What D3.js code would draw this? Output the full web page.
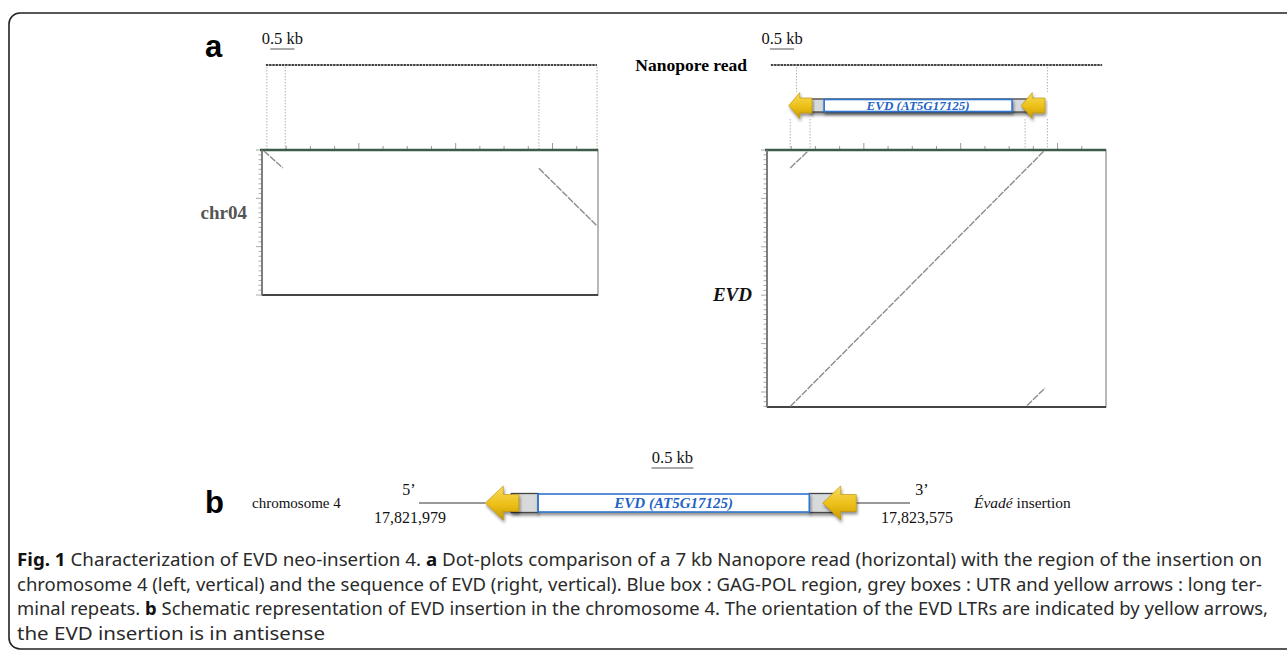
<!DOCTYPE html>
<html>
<head>
<meta charset="utf-8">
<script src="https://cdn.jsdelivr.net/npm/d3@7"></script>
<style>
  body { margin: 0; background: #fff; }
  svg { display: block; }
</style>
</head>
<body>
<svg id="fig" width="1287" height="651"></svg>
<script>
// ---- data (kb) ----
// panel a : dot plots, x = position on the Nanopore read, y = chr04 / EVD
const readSpan = [0.08, 6.92];
const plotWidthKb = 6.94;
const chrHeightKb = 3.0;
const evdHeightKb = 5.31;
const chrHits = [
  { x1: 0.04, y1: 0.02, x2: 0.43, y2: 0.37 },
  { x1: 5.72, y1: 0.38, x2: 6.92, y2: 1.57 }
];
const evdHits = [
  { x1: 0.48, y1: 5.30, x2: 5.72, y2: 0.02 },
  { x1: 0.48, y1: 0.37, x2: 0.85, y2: 0.02 },
  { x1: 5.37, y1: 5.28, x2: 5.74, y2: 4.92 }
];
const chrGuides = [0.10, 0.48, 5.72, 6.92];
const evdGuidesUpper = [0.61, 5.79];
const evdGuidesLower = [0.48, 0.89, 5.33, 5.79];
// EVD element drawn over the right dot plot
const aLtr5 = [0.45, 0.93];
const aUtr = [0.89, 5.39];
const aGagPol = [1.18, 5.06];
const aLtr3 = [5.25, 5.74];
// panel b : insertion schematic
const bFlank5 = [0, 0.79];
const bLtr5 = [0.79, 1.19];
const bUtr5 = [1.10, 1.42];
const bGagPol = [1.42, 4.65];
const bUtr3 = [4.65, 4.93];
const bLtr3 = [4.81, 5.21];
const bFlank3 = [5.21, 5.85];
const bScaleBar = [2.77, 3.27];
const coords = ['17,821,979', '17,823,575'];
const captionLines = [
  [['Fig. 1', 1], [' Characterization of EVD neo-insertion 4. ', 0], ['a', 1], [' Dot-plots comparison of a 7 kb Nanopore read (horizontal) with the region of the insertion on', 0]],
  [['chromosome 4 (left, vertical) and the sequence of EVD (right, vertical). Blue box : GAG-POL region, grey boxes : UTR and yellow arrows : long ter-', 0]],
  [['minal repeats. ', 0], ['b', 1], [' Schematic representation of EVD insertion in the chromosome 4. The orientation of the EVD LTRs are indicated by yellow arrows,', 0]],
  [['the EVD insertion is in antisense', 0]]
];

const svg = d3.select('#fig');
const serif = '"Liberation Serif", "DejaVu Serif", serif';

const defs = svg.append('defs');
const grad = defs.append('linearGradient').attr('id', 'gold').attr('x1', 0).attr('y1', 0).attr('x2', 0).attr('y2', 1);
grad.append('stop').attr('offset', '0%').attr('stop-color', '#f8dc5a');
grad.append('stop').attr('offset', '55%').attr('stop-color', '#ecbf17');
grad.append('stop').attr('offset', '100%').attr('stop-color', '#c99800');
const sh = defs.append('filter').attr('id', 'shadow').attr('x', '-10%').attr('y', '-50%').attr('width', '120%').attr('height', '220%');
sh.append('feDropShadow').attr('dx', 1).attr('dy', 2.5).attr('stdDeviation', 1.6)
  .attr('flood-color', '#000').attr('flood-opacity', 0.45);

// frame
svg.append('rect').attr('x', 9).attr('y', 13).attr('width', 1300).attr('height', 636)
  .attr('rx', 11).attr('fill', 'none').attr('stroke', '#222').attr('stroke-width', 1.6);

// panel letters
svg.append('text').attr('x', 205).attr('y', 57).text('a')
  .attr('font-family', '"Liberation Sans", Arial, sans-serif').attr('font-weight', 'bold').attr('font-size', 31);
svg.append('text').attr('x', 205).attr('y', 513).text('b')
  .attr('font-family', '"Liberation Sans", Arial, sans-serif').attr('font-weight', 'bold').attr('font-size', 31);

function leftArrow(g, x, span, cy, headLen, headH, shaftH) {
  const x0 = x(span[0]), x1 = x(span[1]);
  const pts = [[x0, cy], [x0 + headLen, cy - headH], [x0 + headLen, cy - shaftH], [x1, cy - shaftH],
               [x1, cy + shaftH], [x0 + headLen, cy + shaftH], [x0 + headLen, cy + headH]];
  g.append('path').attr('d', d3.line()(pts) + 'Z')
    .attr('fill', 'url(#gold)').attr('stroke', '#b58b00').attr('stroke-width', 0.6)
    .attr('filter', 'url(#shadow)');
}

function dotPlot(x, y, yTop, yBot, hits, yLabel, italic, labelY, labelColor) {
  const g = svg.append('g');
  const [bx0, bx1] = x.range();
  // tick marks on top
  const topTicks = d3.range(0.5, plotWidthKb, 0.5);
  g.selectAll('.tt').data(topTicks).join('line')
    .attr('x1', d => x(d)).attr('x2', d => x(d))
    .attr('y1', yTop).attr('y2', d => yTop - (d % 2 === 0 ? 7 : 4))
    .attr('stroke', '#999').attr('stroke-width', 1);
  // tick marks on left
  const kb = y.domain()[1];
  const leftTicks = d3.range(0, kb + 0.001, 0.1).map(v => +v.toFixed(1));
  g.selectAll('.lt').data(leftTicks).join('line')
    .attr('x1', bx0).attr('x2', d => bx0 - (Math.abs(d - Math.round(d)) < 0.01 ? 6 : 3.5))
    .attr('y1', d => y(d)).attr('y2', d => y(d))
    .attr('stroke', '#aaa').attr('stroke-width', 1);
  g.append('rect').attr('x', bx0).attr('y', yTop).attr('width', bx1 - bx0).attr('height', yBot - yTop)
    .attr('fill', '#fff').attr('stroke', '#8a8a8a').attr('stroke-width', 1.2);
  g.append('line').attr('x1', bx0 - 2).attr('x2', bx1).attr('y1', yTop).attr('y2', yTop)
    .attr('stroke', '#3e5b47').attr('stroke-width', 2.4);
  g.append('line').attr('x1', bx0).attr('x2', bx1).attr('y1', yBot).attr('y2', yBot)
    .attr('stroke', '#444').attr('stroke-width', 2);
  g.append('line').attr('x1', bx0).attr('x2', bx0).attr('y1', yTop).attr('y2', yBot)
    .attr('stroke', '#777').attr('stroke-width', 1.8);
  g.selectAll('.hit').data(hits).join('line')
    .attr('x1', d => x(d.x1)).attr('y1', d => y(d.y1))
    .attr('x2', d => x(d.x2)).attr('y2', d => y(d.y2))
    .attr('stroke', '#8c8c8c').attr('stroke-width', 1.4).attr('stroke-dasharray', '7,1.2');
  g.append('text').attr('x', bx0 - 15).attr('y', labelY).text(yLabel)
    .attr('text-anchor', 'end').attr('font-family', serif).attr('font-weight', 'bold')
    .attr('font-style', italic ? 'italic' : 'normal').attr('font-size', 19).attr('fill', labelColor);
}

function readLine(x, yy) {
  svg.append('line').attr('x1', x(readSpan[0])).attr('x2', x(readSpan[1])).attr('y1', yy).attr('y2', yy)
    .attr('stroke', '#444').attr('stroke-width', 2).attr('stroke-dasharray', '2.5,0.7');
}

function scaleBar(x0, x1, yy) {
  svg.append('line').attr('x1', x0).attr('x2', x1).attr('y1', yy).attr('y2', yy)
    .attr('stroke', '#555').attr('stroke-width', 1);
  svg.append('text').attr('x', (x0 + x1) / 2).attr('y', yy - 5).text('0.5 kb')
    .attr('text-anchor', 'middle').attr('font-family', serif).attr('font-size', 16.5).attr('fill', '#111');
}

function guides(x, vals, y0, y1) {
  svg.append('g').selectAll('line').data(vals).join('line')
    .attr('x1', d => x(d)).attr('x2', d => x(d)).attr('y1', y0).attr('y2', y1)
    .attr('stroke', '#aaa').attr('stroke-width', 0.9).attr('stroke-dasharray', '1.5,1.5');
}

// ---- left dot plot (chr04) ----
const xL = d3.scaleLinear().domain([0, plotWidthKb]).range([262, 598]);
const yChr = d3.scaleLinear().domain([0, chrHeightKb]).range([150, 295]);
guides(xL, chrGuides, 67, 150);
readLine(xL, 65);
scaleBar(xL(0.17), xL(0.17) + (xL(0.5) - xL(0)), 49);
dotPlot(xL, yChr, 150, 295, chrHits, 'chr04', false, 219, '#555');

// ---- right dot plot (EVD) ----
const xR = d3.scaleLinear().domain([0, 7.0]).range([767, 1106]);
const yEvd = d3.scaleLinear().domain([0, evdHeightKb]).range([150, 407]);
guides(xR, evdGuidesUpper, 67, 92);
guides(xR, evdGuidesLower, 119, 150);
readLine(xR, 65);
scaleBar(xR(0.06), xR(0.06) + (xR(0.5) - xR(0)), 49);
svg.append('text').attr('x', 747).attr('y', 71).text('Nanopore read')
  .attr('text-anchor', 'end').attr('font-family', serif).attr('font-weight', 'bold').attr('font-size', 17.5);
dotPlot(xR, yEvd, 150, 407, evdHits, 'EVD', true, 301, '#111');

function element(x, cy, utrs, gag, ltrs, h, arrow, fs) {
  const g = svg.append('g');
  utrs.forEach(u => {
    g.append('rect').attr('x', x(u[0])).attr('y', cy - h / 2).attr('width', x(u[1]) - x(u[0])).attr('height', h)
      .attr('fill', '#d8d9db').attr('stroke', '#444').attr('stroke-width', 1.3).attr('filter', 'url(#shadow)');
  });
  g.append('rect').attr('x', x(gag[0])).attr('y', cy - h / 2 + 0.5).attr('width', x(gag[1]) - x(gag[0])).attr('height', h - 1)
    .attr('fill', '#fff').attr('stroke', '#2f74cf').attr('stroke-width', 1.6).attr('filter', 'url(#shadow)');
  const t = g.append('text').attr('x', (x(gag[0]) + x(gag[1])) / 2).attr('y', cy + fs * 0.36)
    .attr('text-anchor', 'middle').attr('font-family', serif).attr('font-size', fs)
    .attr('fill', '#1f63c4').attr('font-style', 'italic').attr('font-weight', 'bold');
  t.append('tspan').text('EVD (');
  t.append('tspan').text('AT5G17125');
  t.append('tspan').text(')');
  ltrs.forEach(l => leftArrow(g, x, l, cy, arrow[0], arrow[1], arrow[2]));
}

element(xR, 105.5, [aUtr], aGagPol, [aLtr5, aLtr3], 13, [11, 13, 7.5], 13);

// ---- panel b ----
const xB = d3.scaleLinear().domain([0, 5.85]).range([419, 910]);
const cyB = 503;
[bFlank5, bFlank3].forEach(f => {
  svg.append('line').attr('x1', xB(f[0])).attr('x2', xB(f[1])).attr('y1', cyB).attr('y2', cyB)
    .attr('stroke', '#777').attr('stroke-width', 1.5);
});
scaleBar(xB(bScaleBar[0]), xB(bScaleBar[1]), 468);
element(xB, cyB, [bUtr5, bUtr3], bGagPol, [bLtr5, bLtr3], 19, [18, 17, 8.5], 15);

const btxt = (x, y, s, anchor) => svg.append('text').attr('x', x).attr('y', y).text(s)
  .attr('text-anchor', anchor || 'start').attr('font-family', serif).attr('font-size', 16).attr('fill', '#111');
btxt(252, 508, 'chromosome 4').attr('font-size', 15);
btxt(xB(bFlank5[0]) - 10, 495, '5\u2019', 'middle');
btxt(xB(bFlank5[0]) - 9, 523, coords[0], 'middle');
btxt(xB(bFlank3[1]) + 12, 495, '3\u2019', 'middle');
btxt(xB(bFlank3[1]) + 7, 523, coords[1], 'middle');
const ev = svg.append('text').attr('x', 974).attr('y', 508)
  .attr('font-family', serif).attr('font-size', 15.5).attr('fill', '#111');
ev.append('tspan').text('Évadé').attr('font-style', 'italic');
ev.append('tspan').text(' insertion');

// ---- caption ----
const capWidths = [1245, 1245, 1251, 308];
const cap = svg.append('g').attr('font-family', '"Noto Sans", "Open Sans", sans-serif')
  .attr('font-size', 18).attr('fill', '#2a2a2a');
captionLines.forEach((parts, i) => {
  const t = cap.append('text').attr('x', 17).attr('y', 566 + i * 24.5).attr('xml:space', 'preserve');
  parts.forEach(p => t.append('tspan').text(p[0]).attr('font-weight', p[1] ? 'bold' : 'normal')
    .attr('fill', p[1] ? '#111' : '#2a2a2a'));
  t.attr('textLength', capWidths[i]).attr('lengthAdjust', 'spacingAndGlyphs');
});
</script>
</body>
</html>
